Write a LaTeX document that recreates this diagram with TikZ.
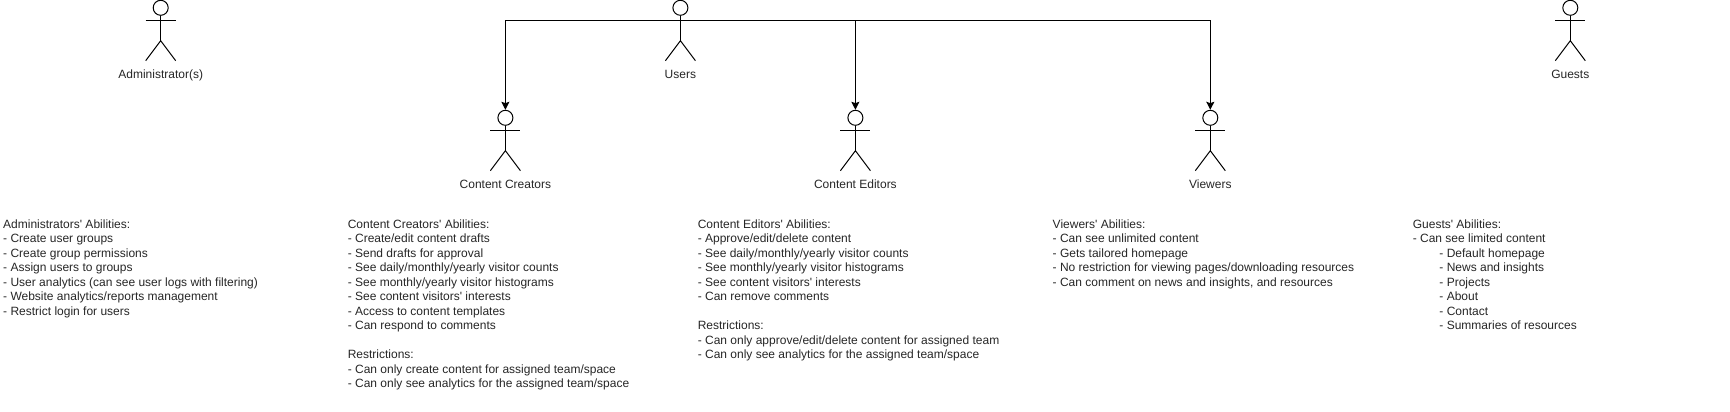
\documentclass[tikz,border=0pt]{standalone}
\usepackage{fontspec}
\setmainfont{Liberation Sans}[Ligatures=TeXOff]
\usetikzlibrary{arrows.meta}
\tikzset{
    head/.style={circle, draw, minimum size=11.25pt, inner sep=0pt},
    actorname/.style={anchor=base, inner sep=0pt, text=black!85},
    abilities/.style={anchor=north west, align=left, inner sep=0pt, text=black!85, font=\fontsize{9}{10.875}\selectfont},
    flow/.style={-{Stealth[length=6pt,width=6pt,inset=1pt]}}
}
\newcommand{\actor}[4]{
    \node[head] (#1) at (#2,#3+7.8) {};
    \draw (#1.south) -- ++(0,25);
    \draw (#2-15,#3+20.3) -- (#2+15,#3+20.3);
    \draw (#2-15,#3+60.7) -- (#2,#3+40.7) -- (#2+15,#3+60.7);
    \node[actorname, font=\fontsize{9}{10.875}\selectfont] (#1name) at (#2,#3+78) {#4};
}
\begin{document}
\begin{tikzpicture}[x=0.75pt,y=-0.75pt,line width=0.75pt]
    \useasboundingbox (0,0) rectangle (1730,411);
    \actor{admin}{160.7}{0}{Administrator(s)}
    \actor{users}{680.4}{0}{Users}
    \actor{guests}{1570.3}{0}{Guests}
    \actor{creators}{505.4}{110}{Content Creators}
    \actor{editors}{855.4}{110}{Content Editors}
    \actor{viewers}{1210.3}{110}{Viewers}
    \coordinate (trunk) at (680.4,20.3);
    \draw[flow] (trunk) -| (creators.north);
    \draw[flow] (trunk) -| (editors.north);
    \draw[flow] (trunk) -| (viewers.north);
    \node[abilities] (adminlist) at (2.7,219.2) {Administrators' Abilities:\\
        - Create user groups\\
        - Create group permissions\\
        - Assign users to groups\\
        - User analytics (can see user logs with filtering)\\
        - Website analytics/reports management\\
        - Restrict login for users};
    \node[abilities] (creatorslist) at (347.3,219.2) {Content Creators' Abilities:\\
        - Create/edit content drafts\\
        - Send drafts for approval\\
        - See daily/monthly/yearly visitor counts\\
        - See monthly/yearly visitor histograms\\
        - See content visitors' interests\\
        - Access to content templates\\
        - Can respond to comments\\
        \mbox{}\\
        Restrictions:\\
        - Can only create content for assigned team/space\\
        - Can only see analytics for the assigned team/space};
    \node[abilities] (editorslist) at (697.3,219.2) {Content Editors' Abilities:\\
        - Approve/edit/delete content\\
        - See daily/monthly/yearly visitor counts\\
        - See monthly/yearly visitor histograms\\
        - See content visitors' interests\\
        - Can remove comments\\
        \mbox{}\\
        Restrictions:\\
        - Can only approve/edit/delete content for assigned team\\
        - Can only see analytics for the assigned team/space};
    \node[abilities] (viewerslist) at (1052.2,219.2) {Viewers' Abilities:\\
        - Can see unlimited content\\
        - Gets tailored homepage\\
        - No restriction for viewing pages/downloading resources\\
        - Can comment on news and insights, and resources};
    \node[abilities] (guestslist) at (1412.3,219.2) {Guests' Abilities:\\
        - Can see limited content\\
        \hspace*{20pt}- Default homepage\\
        \hspace*{20pt}- News and insights\\
        \hspace*{20pt}- Projects\\
        \hspace*{20pt}- About\\
        \hspace*{20pt}- Contact\\
        \hspace*{20pt}- Summaries of resources};
\end{tikzpicture}
\end{document}
